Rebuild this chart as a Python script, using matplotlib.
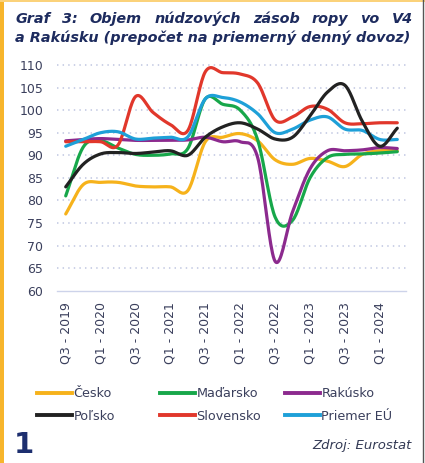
import numpy as np
import matplotlib
matplotlib.use("Agg")
import matplotlib.pyplot as plt
from matplotlib.lines import Line2D
from matplotlib.patches import Rectangle

# ---------------- data ----------------
quarters = ["Q3 - 2019", "Q4 - 2019", "Q1 - 2020", "Q2 - 2020", "Q3 - 2020", "Q4 - 2020",
            "Q1 - 2021", "Q2 - 2021", "Q3 - 2021", "Q4 - 2021", "Q1 - 2022", "Q2 - 2022",
            "Q3 - 2022", "Q4 - 2022", "Q1 - 2023", "Q2 - 2023", "Q3 - 2023", "Q4 - 2023",
            "Q1 - 2024", "Q2 - 2024"]
cesko      = [77.0, 83.5, 84.0, 84.0, 83.2, 83.0, 83.0, 82.2, 93.0, 94.0, 94.8, 93.2,
              89.0, 88.0, 89.3, 88.7, 87.5, 90.2, 91.0, 91.0]
madarsko   = [81.0, 91.8, 93.2, 91.6, 90.2, 90.0, 90.3, 91.5, 102.5, 101.3, 100.0, 93.4,
              76.3, 75.6, 85.0, 89.5, 90.2, 90.3, 90.5, 90.8]
rakusko    = [93.2, 93.5, 93.7, 93.5, 93.3, 93.3, 93.3, 93.4, 94.0, 93.0, 93.0, 89.5,
              66.5, 77.5, 87.0, 91.0, 91.0, 91.2, 91.7, 91.5]
polsko     = [83.0, 88.0, 90.3, 90.6, 90.4, 90.7, 91.0, 90.0, 94.0, 96.3, 97.2, 95.8,
              93.6, 94.0, 98.7, 104.0, 105.5, 97.5, 92.0, 96.0]
slovensko  = [93.0, 93.0, 93.0, 92.3, 103.0, 99.5, 96.8, 95.5, 108.5, 108.3, 108.0, 106.0,
              97.8, 98.5, 100.8, 100.2, 97.2, 97.0, 97.2, 97.2]
priemer_eu = [92.0, 93.5, 95.0, 95.2, 93.6, 93.8, 94.0, 94.1, 102.5, 102.8, 101.8, 99.2,
              95.0, 95.8, 97.8, 98.5, 95.8, 95.5, 93.5, 93.5]

series_names = ["Česko", "Maďarsko", "Rakúsko", "Poľsko", "Slovensko", "Priemer EÚ"]
series_vals = [cesko, madarsko, rakusko, polsko, slovensko, priemer_eu]
colors = ["#f6b21b", "#17a74a", "#8c2a8e", "#222222", "#e1372b", "#1ea0d8"]
draw_order = [0, 1, 2, 4, 5, 3]

yticks = [60, 65, 70, 75, 80, 85, 90, 95, 100, 105, 110]

title1 = "Graf 3: Objem núdzových zásob ropy vo V4"
title2 = "a Rakúsku (prepočet na priemerný denný dovoz)"
source = "Zdroj: Eurostat"
page_no = "1"

# ---------------- helpers ----------------
def smooth(y, n=20):
    """Catmull-Rom style cubic Hermite curve through the given points (line smoothing)."""
    y = np.asarray(y, float)
    m = len(y)
    t = np.empty(m)
    t[1:-1] = (y[2:] - y[:-2]) / 2.0
    t[0] = y[1] - y[0]
    t[-1] = y[-1] - y[-2]
    xs, ys = [], []
    for i in range(m - 1):
        s = np.linspace(0, 1, n, endpoint=False)
        h00 = 2 * s**3 - 3 * s**2 + 1
        h10 = s**3 - 2 * s**2 + s
        h01 = -2 * s**3 + 3 * s**2
        h11 = s**3 - s**2
        xs.append(i + s)
        ys.append(h00 * y[i] + h10 * t[i] + h01 * y[i + 1] + h11 * t[i + 1])
    xs.append([m - 1])
    ys.append([y[-1]])
    return np.concatenate(xs), np.concatenate(ys)

W, H = 425, 463
fig = plt.figure(figsize=(W / 100, H / 100), dpi=100)
fig.patch.set_facecolor("white")

navy = "#1d2b5e"
tick_col = "#3a3f5c"

# frame decorations
fig.add_artist(Rectangle((0, 0), 4 / W, 1, transform=fig.transFigure, color="#f7b52c", lw=0))
fig.add_artist(Rectangle((0, 1 - 1.5 / H), 1, 1.5 / H, transform=fig.transFigure, color="#fbd27a", lw=0))
fig.add_artist(Line2D([422.5 / W, 422.5 / W], [0, 1], transform=fig.transFigure, color="#555555", lw=1))

ax = fig.add_axes([57 / W, (H - 290.7) / H, (406 - 57) / W, (290.7 - 65) / H])
ax.set_facecolor("white")

for k in draw_order:
    xs, ys = smooth(series_vals[k])
    ax.plot(xs, ys, color=colors[k], lw=2.3, solid_capstyle="round", zorder=3)

ax.set_xlim(-0.5, len(quarters) - 0.5)
ax.set_ylim(60, 110)
ax.set_yticks(yticks)
ax.set_yticklabels([str(v) for v in yticks])
xt = list(range(0, len(quarters), 2))
ax.set_xticks(xt)
ax.set_xticklabels([quarters[i] for i in xt], rotation=90)

for s in ["top", "right", "left"]:
    ax.spines[s].set_visible(False)
ax.spines["bottom"].set_color("#cdd3ea")
ax.spines["bottom"].set_linewidth(1.0)
ax.tick_params(axis="both", length=0, labelsize=9, labelcolor=tick_col)
ax.tick_params(axis="y", pad=10)
ax.tick_params(axis="x", pad=8)
for v in yticks[1:]:
    ax.axhline(v, color="#c8cee5", lw=1.3, ls=(0, (0.8, 2.3)), zorder=1, clip_on=False)

# legend as three columns with fixed positions
col_x = [37, 160, 285]
for c in range(3):
    idx = [c, c + 3]
    handles = [Line2D([], [], color=colors[i], lw=2.8) for i in idx]
    lg = fig.legend(handles, [series_names[i] for i in idx], loc="upper left",
                    bbox_to_anchor=(col_x[c] / W, 1 - 387 / H), frameon=False,
                    fontsize=9.2, handlelength=2.7, handletextpad=0.15,
                    labelspacing=0.75, borderpad=0, borderaxespad=0)
    for t in lg.get_texts():
        t.set_color(tick_col)

# title: justified two lines
fig.canvas.draw()
renderer = fig.canvas.get_renderer()
x0, x1 = 15, 413
target = x1 - x0
fs = 10.5
probe = fig.text(0, 0, title2, fontsize=fs, fontweight="bold", fontstyle="italic")
w = probe.get_window_extent(renderer).width
probe.remove()
fs = fs * target / w
fig.text(x0 / W, 1 - 42 / H, title2, fontsize=fs, fontweight="bold", fontstyle="italic",
         color=navy, va="baseline", ha="left")
words = title1.split()
widths = []
for wd in words:
    p = fig.text(0, 0, wd, fontsize=fs, fontweight="bold", fontstyle="italic")
    widths.append(p.get_window_extent(renderer).width)
    p.remove()
gap = (target - sum(widths)) / (len(words) - 1)
xpos = x0
for wd, wdt in zip(words, widths):
    fig.text(xpos / W, 1 - 23 / H, wd, fontsize=fs, fontweight="bold", fontstyle="italic",
             color=navy, va="baseline", ha="left")
    xpos += wdt + gap

fig.text(412 / W, 1 - 449 / H, source, fontsize=9.5, fontstyle="italic", color="#333a55",
         ha="right", va="baseline")
fig.text(14 / W, 1 - 453 / H, page_no, fontsize=21, fontweight="bold", color="#1d2f6f",
         ha="left", va="baseline")

fig.savefig("out.png", dpi=100, facecolor="white")
